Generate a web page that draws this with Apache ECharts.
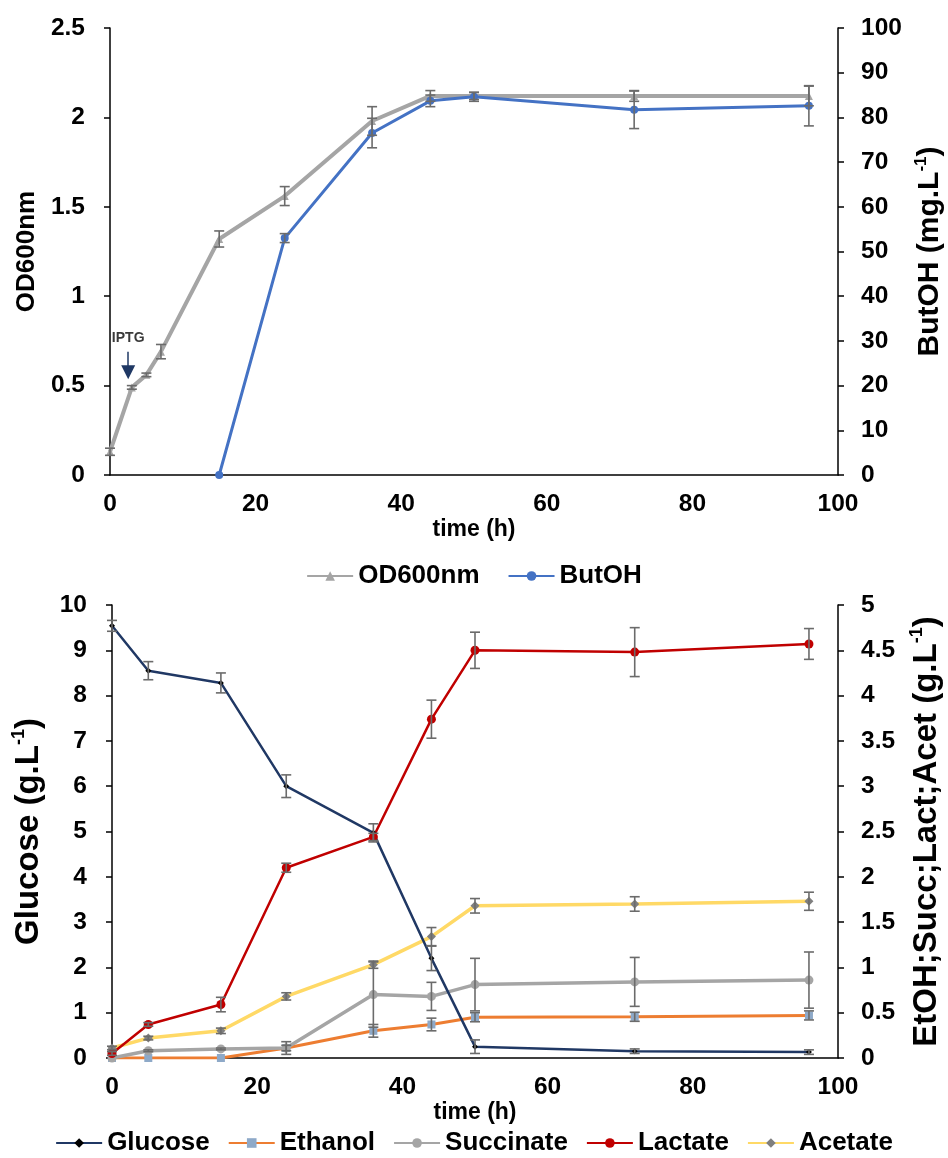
<!DOCTYPE html>
<html>
<head>
<meta charset="utf-8">
<script src="https://cdn.jsdelivr.net/npm/echarts@6/dist/echarts.min.js"></script>
<style>
  html, body { margin: 0; padding: 0; background: #fff; }
  #chart { width: 948px; height: 1158px; }
</style>
</head>
<body>
<div id="chart"></div>
<script>
// Growth and butanol production (upper panel)
const odTime = [0, 3, 5, 7, 15, 24, 36, 44, 50, 72, 96];
const od600 = [0.13, 0.49, 0.56, 0.69, 1.32, 1.56, 1.98, 2.12, 2.12, 2.12, 2.12];
const od600Err = [0.02, 0.01, 0.01, 0.04, 0.045, 0.053, 0.08, 0.03, 0.02, 0.03, 0.055];

const butohTime = [15, 24, 36, 44, 50, 72, 96];
const butoh = [0, 53, 76.5, 83.7, 84.6, 81.7, 82.6];
const butohErr = [0, 1, 3.3, 1.3, 1, 4.2, 4.5];

// IPTG induction time and arrow extent (OD units)
const iptgTime = 2.5;
const iptgArrow = [0.69, 0.575];

// Substrate and fermentation products (lower panel)
const sampleTime = [0, 5, 15, 24, 36, 44, 50, 72, 96];
const glucose = [9.54, 8.55, 8.28, 6.0, 4.97, 2.2, 0.25, 0.15, 0.13];
const glucoseErr = [0.12, 0.2, 0.22, 0.25, 0.2, 0.27, 0.15, 0.05, 0.05];
const ethanol = [0, 0, 0, 0.11, 0.30, 0.37, 0.45, 0.455, 0.47];
const ethanolErr = [0, 0, 0, 0.03, 0.07, 0.07, 0.05, 0.05, 0.05];
const succinate = [0, 0.08, 0.1, 0.11, 0.70, 0.68, 0.81, 0.84, 0.86];
const succinateErr = [0, 0.01, 0.01, 0.07, 0.36, 0.155, 0.29, 0.27, 0.31];
const lactate = [0.05, 0.37, 0.59, 2.1, 2.44, 3.74, 4.5, 4.48, 4.57];
const lactateErr = [0.02, 0.02, 0.08, 0.05, 0.04, 0.21, 0.2, 0.27, 0.17];
const acetate = [0.11, 0.22, 0.30, 0.68, 1.03, 1.34, 1.68, 1.70, 1.73];
const acetateErr = [0.02, 0.02, 0.03, 0.04, 0.04, 0.1, 0.08, 0.08, 0.1];

const FONT = '"Liberation Sans", Arial, sans-serif';
const ERR_COLOR = '#6b6b6b';

const pairs = (xs, ys) => xs.map((x, i) => [x, ys[i]]);
const triples = (xs, ys, es) => xs.map((x, i) => [x, ys[i], es[i]]);

function errorBars(params, api) {
  const x = api.value(0), y = api.value(1), e = api.value(2);
  if (!e) return null;
  const hi = api.coord([x, y + e]);
  const lo = api.coord([x, y - e]);
  const w = 5;
  const style = { stroke: ERR_COLOR, lineWidth: 1.6 };
  return {
    type: 'group',
    children: [
      { type: 'line', shape: { x1: hi[0], y1: hi[1], x2: lo[0], y2: lo[1] }, style },
      { type: 'line', shape: { x1: hi[0] - w, y1: hi[1], x2: hi[0] + w, y2: hi[1] }, style },
      { type: 'line', shape: { x1: lo[0] - w, y1: lo[1], x2: lo[0] + w, y2: lo[1] }, style }
    ]
  };
}

function errSeries(xi, yi, data) {
  return {
    type: 'custom', xAxisIndex: xi, yAxisIndex: yi, renderItem: errorBars,
    data, encode: { x: 0, y: 1 }, silent: true, z: 5, clip: false
  };
}

const tickLabel = { fontFamily: FONT, fontWeight: 'bold', fontSize: 24.5, color: '#000' };
const axisLine = { show: true, lineStyle: { color: '#000', width: 1.5 } };

function yAxis(grid, pos, max, interval, name, gap, size) {
  return {
    type: 'value', gridIndex: grid, position: pos, min: 0, max, interval,
    axisLine, axisTick: { show: true, length: 6, lineStyle: { color: '#000', width: 1.5 } },
    axisLabel: Object.assign({ margin: pos === 'left' ? 25 : 23 }, tickLabel),
    splitLine: { show: false },
    name, nameLocation: 'middle', nameRotate: 90, nameGap: gap,
    nameTextStyle: {
      rich: {
        a: { fontFamily: FONT, fontWeight: 'bold', fontSize: size, color: '#000', lineHeight: size + 4 },
        s: {
          fontFamily: FONT, fontWeight: 'bold', fontSize: Math.round(size * 0.55), color: '#000',
          verticalAlign: 'top', lineHeight: size + 4, padding: [0, 0, Math.round(size * 0.45), 0]
        }
      }
    }
  };
}

function xAxis(grid, gap) {
  return {
    type: 'value', gridIndex: grid, min: 0, max: 100, interval: 20,
    axisLine, axisTick: { show: false },
    axisLabel: Object.assign({ margin: 17 }, tickLabel),
    splitLine: { show: false },
    name: 'time (h)', nameLocation: 'middle', nameGap: gap,
    nameTextStyle: { fontFamily: FONT, fontWeight: 'bold', fontSize: 23, color: '#000' }
  };
}

const legendText = { fontFamily: FONT, fontWeight: 'bold', fontSize: 26, color: '#000' };

const option = {
  animation: false,
  backgroundColor: '#fff',
  grid: [
    { left: 110, right: 110, top: 28, height: 447, outerBoundsMode: 'none', containLabel: false },
    { left: 112, right: 110, top: 605, height: 453, outerBoundsMode: 'none', containLabel: false }
  ],
  legend: [
    {
      data: ['OD600nm', 'ButOH'], top: 558, left: 'center',
      itemWidth: 46, itemHeight: 12, itemGap: 28, textStyle: legendText
    },
    {
      data: ['Glucose', 'Ethanol', 'Succinate', 'Lactate', 'Acetate'], top: 1125, left: 'center',
      itemWidth: 46, itemHeight: 12, itemGap: 18, textStyle: legendText
    }
  ],
  xAxis: [xAxis(0, 40), xAxis(1, 41)],
  yAxis: [
    yAxis(0, 'left', 2.5, 0.5, '{a|OD600nm}', 66, 26),
    yAxis(0, 'right', 100, 10, '{a|ButOH (mg.L}{s|-1}{a|)}', 70, 30),
    yAxis(1, 'left', 10, 1, '{a|Glucose (g.L}{s|-1}{a|)}', 65, 33),
    yAxis(1, 'right', 5, 0.5, '{a|EtOH;Succ;Lact;Acet (g.L}{s|-1}{a|)}', 70, 33)
  ],
  series: [
    {
      name: 'OD600nm', type: 'line', xAxisIndex: 0, yAxisIndex: 0,
      data: pairs(odTime, od600), symbol: 'triangle', symbolSize: 8,
      lineStyle: { color: '#a5a5a5', width: 4 }, itemStyle: { color: '#a5a5a5' }, z: 3,
      markLine: {
        silent: true, animation: false,
        symbol: ['none', 'triangle'], symbolSize: [14, 14],
        lineStyle: { color: '#1f3864', width: 1.5, type: 'solid' },
        label: {
          show: true, position: 'start', formatter: 'IPTG', distance: 6,
          fontFamily: FONT, fontWeight: 'bold', fontSize: 14, color: '#3a3a3a'
        },
        data: [[{ coord: [iptgTime, iptgArrow[0]] }, { coord: [iptgTime, iptgArrow[1]] }]]
      }
    },
    {
      name: 'ButOH', type: 'line', xAxisIndex: 0, yAxisIndex: 1,
      data: pairs(butohTime, butoh), symbol: 'circle', symbolSize: 8,
      lineStyle: { color: '#4472c4', width: 3 }, itemStyle: { color: '#4472c4' }, z: 4
    },
    errSeries(0, 0, triples(odTime, od600, od600Err)),
    errSeries(0, 1, triples(butohTime, butoh, butohErr)),

    {
      name: 'Glucose', type: 'line', xAxisIndex: 1, yAxisIndex: 2,
      data: pairs(sampleTime, glucose), symbol: 'diamond', symbolSize: 6,
      lineStyle: { color: '#203864', width: 2.5 }, itemStyle: { color: '#000' }, z: 4
    },
    {
      name: 'Ethanol', type: 'line', xAxisIndex: 1, yAxisIndex: 3,
      data: pairs(sampleTime, ethanol), symbol: 'rect', symbolSize: 8,
      lineStyle: { color: '#ed7d31', width: 3 }, itemStyle: { color: '#8ea9c8' }, z: 3
    },
    {
      name: 'Succinate', type: 'line', xAxisIndex: 1, yAxisIndex: 3,
      data: pairs(sampleTime, succinate), symbol: 'circle', symbolSize: 9,
      lineStyle: { color: '#a5a5a5', width: 3.5 }, itemStyle: { color: '#a5a5a5' }, z: 3
    },
    {
      name: 'Lactate', type: 'line', xAxisIndex: 1, yAxisIndex: 3,
      data: pairs(sampleTime, lactate), symbol: 'circle', symbolSize: 9,
      lineStyle: { color: '#c00000', width: 2.5 }, itemStyle: { color: '#c00000' }, z: 4
    },
    {
      name: 'Acetate', type: 'line', xAxisIndex: 1, yAxisIndex: 3,
      data: pairs(sampleTime, acetate), symbol: 'diamond', symbolSize: 9,
      lineStyle: { color: '#ffd966', width: 3.5 }, itemStyle: { color: '#7f7f7f' }, z: 3
    },
    errSeries(1, 2, triples(sampleTime, glucose, glucoseErr)),
    errSeries(1, 3, triples(sampleTime, ethanol, ethanolErr)),
    errSeries(1, 3, triples(sampleTime, succinate, succinateErr)),
    errSeries(1, 3, triples(sampleTime, lactate, lactateErr)),
    errSeries(1, 3, triples(sampleTime, acetate, acetateErr))
  ]
};

echarts.init(document.getElementById('chart'), null, { renderer: 'canvas' }).setOption(option);
</script>
</body>
</html>
